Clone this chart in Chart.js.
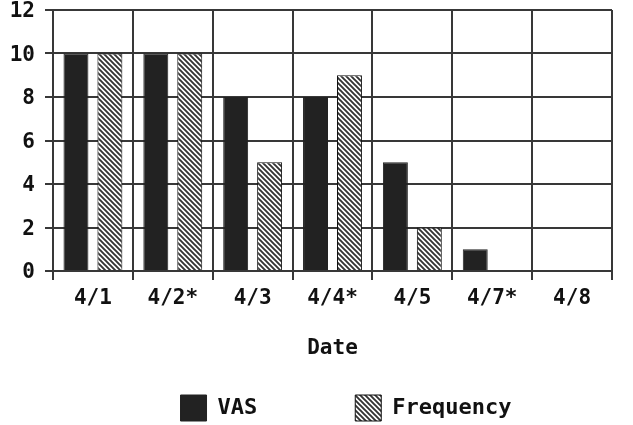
<!DOCTYPE html>
<html>
<head>
<meta charset="utf-8">
<script src="https://cdn.jsdelivr.net/npm/chart.js@4"></script>
<style>
  html,body{margin:0;padding:0;background:#fff;}
  #wrap{width:633px;height:425px;}
</style>
</head>
<body>
<div id="wrap"><canvas id="chart" width="633" height="425"></canvas></div>
<script>
const DATES = ['4/1','4/2*','4/3','4/4*','4/5','4/7*','4/8'];
const VAS = [10,10,8,8,5,1,0];
const FREQ = [10,10,5,9,2,0,0];
const Y_TICKS = [0,2,4,6,8,10,12];

const FONT = "'DejaVu Sans Mono', monospace";
const INK = '#222';
const GRID = '#383838';
const LEGEND_GAP = 98;

// diagonal hatch for the frequency bars
function makeHatch(){
  const n = 5;
  const c = document.createElement('canvas');
  c.width = n; c.height = n;
  const g = c.getContext('2d');
  g.fillStyle = '#fff';
  g.fillRect(0,0,n,n);
  g.strokeStyle = '#333';
  g.lineWidth = 1.9;
  g.beginPath();
  g.moveTo(-1,-1); g.lineTo(n+1,n+1);
  g.moveTo(-1,n-1); g.lineTo(1,n+1);
  g.moveTo(n-1,-1); g.lineTo(n+1,1);
  g.stroke();
  return g.createPattern(c,'repeat');
}
const hatch = makeHatch();

// legend: wide gap between items but a short box, moved into place after layout
const legendFix = {
  id:'legendFix',
  afterInit(chart){
    const lg = chart.legend;
    const fit = lg.fit;
    lg.fit = function(){ fit.call(this); this.height = 60; };
  },
  afterLayout(chart){
    const lg = chart.legend;
    lg.top -= LEGEND_GAP - 30;   // bottom stays, so the clip box still holds the items
    lg.left += 40; lg.right += 40;
  }
};

const ctx = document.getElementById('chart');
new Chart(ctx, {
  type:'bar',
  data:{
    labels: DATES,
    datasets:[
      { label:'VAS', data:VAS, backgroundColor:INK, borderColor:INK, borderWidth:1,
        categoryPercentage:0.85, barPercentage:0.735 },
      { label:'Frequency', data:FREQ, backgroundColor:hatch, borderColor:'#111', borderWidth:1,
        categoryPercentage:0.85, barPercentage:0.735 }
    ]
  },
  plugins:[legendFix],
  options:{
    responsive:false,
    animation:false,
    layout:{ padding:{ top:0, right:21, left:0, bottom:0 } },
    plugins:{
      tooltip:{enabled:false},
      legend:{
        position:'bottom',
        labels:{
          boxWidth:26, boxHeight:26, padding:LEGEND_GAP,
          color:'#111',
          font:{ family:FONT, size:22, weight:'bold' }
        }
      }
    },
    scales:{
      x:{
        afterFit: s => { s.height = 94; },
        grid:{ color:GRID, lineWidth:2, tickLength:9, offset:true },
        border:{ color:GRID, width:2 },
        ticks:{ color:'#111', padding:6, font:{ family:FONT, size:21, weight:'bold' } },
        title:{ display:true, text:'Date', color:'#111', padding:{top:18, bottom:4},
                font:{ family:FONT, size:21, weight:'bold' } }
      },
      y:{
        min:0, max:12,
        afterBuildTicks: s => { s.ticks = Y_TICKS.map(v => ({value:v})); },
        afterFit: s => { s.width = 53; s.paddingTop = 10; s.paddingBottom = 0; },
        grid:{ color:GRID, lineWidth:2, tickLength:8 },
        border:{ color:GRID, width:2 },
        ticks:{ color:'#111', padding:10, labelOffset:2, font:{ family:FONT, size:21, weight:'bold' } }
      }
    }
  }
});
</script>
</body>
</html>
